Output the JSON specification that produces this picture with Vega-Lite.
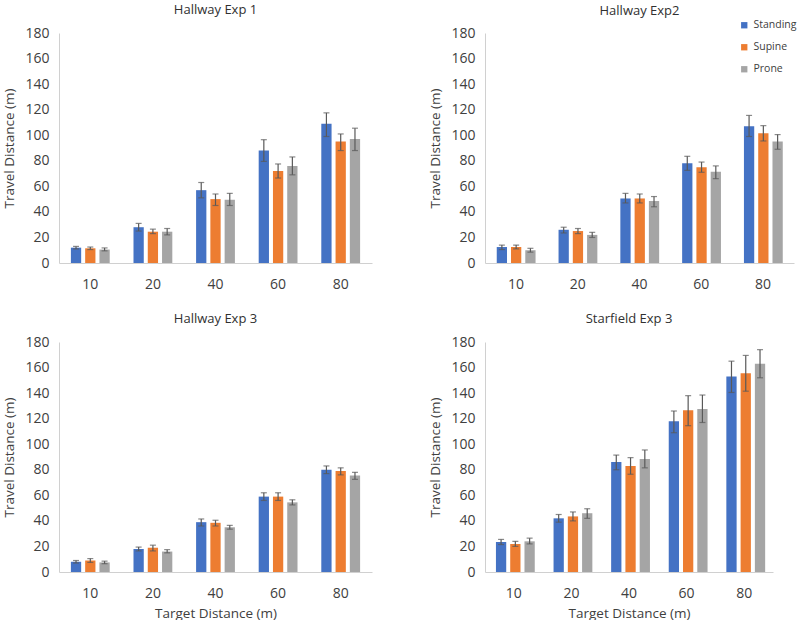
{
  "$schema": "https://vega.github.io/schema/vega-lite/v6.json",
  "padding": {"left": 2, "top": 4, "right": 2, "bottom": 0},
  "background": "white",
  "data": {"values": [
    {"panel": "H1", "target": "10", "cond": "Standing", "mean": 12, "lo": 11, "hi": 13},
    {"panel": "H1", "target": "10", "cond": "Supine", "mean": 11.5, "lo": 10.5, "hi": 12.5},
    {"panel": "H1", "target": "10", "cond": "Prone", "mean": 10.5, "lo": 9.5, "hi": 11.8},
    {"panel": "H1", "target": "20", "cond": "Standing", "mean": 28, "lo": 25, "hi": 31},
    {"panel": "H1", "target": "20", "cond": "Supine", "mean": 24.5, "lo": 23, "hi": 26.5},
    {"panel": "H1", "target": "20", "cond": "Prone", "mean": 24.5, "lo": 22, "hi": 27},
    {"panel": "H1", "target": "40", "cond": "Standing", "mean": 57, "lo": 51, "hi": 63},
    {"panel": "H1", "target": "40", "cond": "Supine", "mean": 50, "lo": 45, "hi": 54},
    {"panel": "H1", "target": "40", "cond": "Prone", "mean": 49.5, "lo": 45, "hi": 54.5},
    {"panel": "H1", "target": "60", "cond": "Standing", "mean": 88, "lo": 79.5, "hi": 96.5},
    {"panel": "H1", "target": "60", "cond": "Supine", "mean": 72, "lo": 66.5, "hi": 77.5},
    {"panel": "H1", "target": "60", "cond": "Prone", "mean": 76, "lo": 69, "hi": 83},
    {"panel": "H1", "target": "80", "cond": "Standing", "mean": 109, "lo": 99, "hi": 117.5},
    {"panel": "H1", "target": "80", "cond": "Supine", "mean": 95, "lo": 88, "hi": 101},
    {"panel": "H1", "target": "80", "cond": "Prone", "mean": 97, "lo": 88, "hi": 105.5},

    {"panel": "H2", "target": "10", "cond": "Standing", "mean": 12.5, "lo": 10.5, "hi": 14},
    {"panel": "H2", "target": "10", "cond": "Supine", "mean": 12.5, "lo": 11, "hi": 14},
    {"panel": "H2", "target": "10", "cond": "Prone", "mean": 10, "lo": 8.5, "hi": 11.5},
    {"panel": "H2", "target": "20", "cond": "Standing", "mean": 26, "lo": 23.5, "hi": 28},
    {"panel": "H2", "target": "20", "cond": "Supine", "mean": 25, "lo": 23, "hi": 27},
    {"panel": "H2", "target": "20", "cond": "Prone", "mean": 22, "lo": 20, "hi": 24},
    {"panel": "H2", "target": "40", "cond": "Standing", "mean": 50.5, "lo": 47, "hi": 54.5},
    {"panel": "H2", "target": "40", "cond": "Supine", "mean": 50.5, "lo": 47, "hi": 54},
    {"panel": "H2", "target": "40", "cond": "Prone", "mean": 48.5, "lo": 44, "hi": 52},
    {"panel": "H2", "target": "60", "cond": "Standing", "mean": 78, "lo": 72.5, "hi": 83.5},
    {"panel": "H2", "target": "60", "cond": "Supine", "mean": 75, "lo": 71, "hi": 79},
    {"panel": "H2", "target": "60", "cond": "Prone", "mean": 71.5, "lo": 66, "hi": 76},
    {"panel": "H2", "target": "80", "cond": "Standing", "mean": 107, "lo": 99, "hi": 115.5},
    {"panel": "H2", "target": "80", "cond": "Supine", "mean": 101.5, "lo": 95.5, "hi": 107.5},
    {"panel": "H2", "target": "80", "cond": "Prone", "mean": 95, "lo": 89, "hi": 100.5},

    {"panel": "H3", "target": "10", "cond": "Standing", "mean": 8, "lo": 7, "hi": 9},
    {"panel": "H3", "target": "10", "cond": "Supine", "mean": 9, "lo": 7.5, "hi": 10.5},
    {"panel": "H3", "target": "10", "cond": "Prone", "mean": 7.5, "lo": 6.5, "hi": 8.5},
    {"panel": "H3", "target": "20", "cond": "Standing", "mean": 18, "lo": 16.5, "hi": 19.5},
    {"panel": "H3", "target": "20", "cond": "Supine", "mean": 19, "lo": 16.5, "hi": 21},
    {"panel": "H3", "target": "20", "cond": "Prone", "mean": 16, "lo": 15, "hi": 17.5},
    {"panel": "H3", "target": "40", "cond": "Standing", "mean": 39, "lo": 36, "hi": 41.5},
    {"panel": "H3", "target": "40", "cond": "Supine", "mean": 38.5, "lo": 36, "hi": 40.5},
    {"panel": "H3", "target": "40", "cond": "Prone", "mean": 35, "lo": 33.5, "hi": 36.5},
    {"panel": "H3", "target": "60", "cond": "Standing", "mean": 59, "lo": 56, "hi": 62},
    {"panel": "H3", "target": "60", "cond": "Supine", "mean": 59, "lo": 56, "hi": 62},
    {"panel": "H3", "target": "60", "cond": "Prone", "mean": 54.5, "lo": 52.5, "hi": 56.5},
    {"panel": "H3", "target": "80", "cond": "Standing", "mean": 80, "lo": 77, "hi": 83},
    {"panel": "H3", "target": "80", "cond": "Supine", "mean": 79, "lo": 76, "hi": 81.5},
    {"panel": "H3", "target": "80", "cond": "Prone", "mean": 75.5, "lo": 72.5, "hi": 78},

    {"panel": "S3", "target": "10", "cond": "Standing", "mean": 23.5, "lo": 21.5, "hi": 25.5},
    {"panel": "S3", "target": "10", "cond": "Supine", "mean": 22, "lo": 20, "hi": 24},
    {"panel": "S3", "target": "10", "cond": "Prone", "mean": 24, "lo": 22, "hi": 26.5},
    {"panel": "S3", "target": "20", "cond": "Standing", "mean": 42, "lo": 39, "hi": 45},
    {"panel": "S3", "target": "20", "cond": "Supine", "mean": 43.5, "lo": 40, "hi": 47},
    {"panel": "S3", "target": "20", "cond": "Prone", "mean": 46, "lo": 42, "hi": 49.5},
    {"panel": "S3", "target": "40", "cond": "Standing", "mean": 86, "lo": 80, "hi": 91.5},
    {"panel": "S3", "target": "40", "cond": "Supine", "mean": 83, "lo": 76.5, "hi": 89.5},
    {"panel": "S3", "target": "40", "cond": "Prone", "mean": 88.5, "lo": 81.5, "hi": 95.5},
    {"panel": "S3", "target": "60", "cond": "Standing", "mean": 118, "lo": 109, "hi": 126},
    {"panel": "S3", "target": "60", "cond": "Supine", "mean": 126.5, "lo": 114.5, "hi": 138},
    {"panel": "S3", "target": "60", "cond": "Prone", "mean": 127.5, "lo": 117, "hi": 138.5},
    {"panel": "S3", "target": "80", "cond": "Standing", "mean": 153, "lo": 140.5, "hi": 165},
    {"panel": "S3", "target": "80", "cond": "Supine", "mean": 155.5, "lo": 141.5, "hi": 169.5},
    {"panel": "S3", "target": "80", "cond": "Prone", "mean": 163, "lo": 152, "hi": 174}
  ]},
  "config": {
    "font": "Open Sans",
    "view": {"stroke": null},
    "axis": {"grid": false, "ticks": false, "labelOverlap": false, "labelFont": "Open Sans", "titleFont": "Open Sans", "labelColor": "#404040", "titleColor": "#404040", "titleFontWeight": "normal", "labelFontSize": 14, "titleFontSize": 13.5, "domainColor": "#D0D0D0"},
    "axisY": {"tickCount": 10},
    "axisX": {"labelPadding": 14, "titlePadding": 6},
    "title": {"font": "Open Sans", "fontSize": 13, "fontWeight": "normal", "color": "#303030", "offset": 9, "frame": "group"},
    "legend": {"labelFont": "Open Sans", "labelFontSize": 10.5, "labelColor": "#404040"}
  },
  "resolve": {"scale": {"color": "independent"}, "legend": {"color": "independent"}},
  "spacing": 22,
  "vconcat": [
    {
      "spacing": 56,
      "resolve": {"scale": {"color": "independent"}, "legend": {"color": "independent"}},
      "hconcat": [
        {
          "title": "Hallway Exp 1",
          "width": 313, "height": 230,
          "transform": [{"filter": "datum.panel === 'H1'"}],
          "encoding": {
            "x": {"field": "target", "type": "ordinal", "title": null, "scale": {"paddingInner": 0.38, "paddingOuter": 0.19}, "axis": {"labelAngle": 0}},
            "xOffset": {"field": "cond", "type": "nominal", "sort": ["Standing", "Supine", "Prone"], "scale": {"paddingInner": 0.28}}
          },
          "layer": [
            {"mark": {"type": "bar"}, "encoding": {
              "y": {"field": "mean", "type": "quantitative", "scale": {"domain": [0, 180]}, "title": "Travel Distance (m)", "axis": {"values": [0,20,40,60,80,100,120,140,160,180], "labelPadding": 10, "titlePadding": 8}},
              "color": {"field": "cond", "type": "nominal", "title": null, "scale": {"domain": ["Standing", "Supine", "Prone"], "range": ["#4472C4", "#ED7D31", "#A5A5A5"]}, "legend": null}
            }},
            {"mark": {"type": "rule", "color": "#595959", "strokeWidth": 1.2}, "encoding": {"y": {"field": "lo", "type": "quantitative", "title": "Travel Distance (m)", "axis": {"values": [0,20,40,60,80,100,120,140,160,180], "labelPadding": 10, "titlePadding": 8}}, "y2": {"field": "hi"}}},
            {"mark": {"type": "tick", "color": "#595959", "thickness": 1.2, "size": 6}, "encoding": {"y": {"field": "lo", "type": "quantitative", "title": "Travel Distance (m)", "axis": {"values": [0,20,40,60,80,100,120,140,160,180], "labelPadding": 10, "titlePadding": 8}}}},
            {"mark": {"type": "tick", "color": "#595959", "thickness": 1.2, "size": 6}, "encoding": {"y": {"field": "hi", "type": "quantitative", "title": "Travel Distance (m)", "axis": {"values": [0,20,40,60,80,100,120,140,160,180], "labelPadding": 10, "titlePadding": 8}}}}
          ]
        },
        {
          "title": {"text": "Hallway Exp2", "offset": 2},
          "width": 309, "height": 230,
          "transform": [{"filter": "datum.panel === 'H2'"}],
          "encoding": {
            "x": {"field": "target", "type": "ordinal", "title": null, "scale": {"paddingInner": 0.38, "paddingOuter": 0.19}, "axis": {"labelAngle": 0}},
            "xOffset": {"field": "cond", "type": "nominal", "sort": ["Standing", "Supine", "Prone"], "scale": {"paddingInner": 0.28}}
          },
          "layer": [
            {"mark": {"type": "bar"}, "encoding": {
              "y": {"field": "mean", "type": "quantitative", "scale": {"domain": [0, 180]}, "title": "Travel Distance (m)", "axis": {"values": [0,20,40,60,80,100,120,140,160,180], "labelPadding": 10, "titlePadding": 8}},
              "color": {"field": "cond", "type": "nominal", "title": null, "scale": {"domain": ["Standing", "Supine", "Prone"], "range": ["#4472C4", "#ED7D31", "#A5A5A5"]}, "legend": {"orient": "none", "legendX": 254, "legendY": -13, "symbolType": "square", "symbolSize": 40, "rowPadding": 11, "labelOffset": 4}}
            }},
            {"mark": {"type": "rule", "color": "#595959", "strokeWidth": 1.2}, "encoding": {"y": {"field": "lo", "type": "quantitative", "title": "Travel Distance (m)", "axis": {"values": [0,20,40,60,80,100,120,140,160,180], "labelPadding": 10, "titlePadding": 8}}, "y2": {"field": "hi"}}},
            {"mark": {"type": "tick", "color": "#595959", "thickness": 1.2, "size": 6}, "encoding": {"y": {"field": "lo", "type": "quantitative", "title": "Travel Distance (m)", "axis": {"values": [0,20,40,60,80,100,120,140,160,180], "labelPadding": 10, "titlePadding": 8}}}},
            {"mark": {"type": "tick", "color": "#595959", "thickness": 1.2, "size": 6}, "encoding": {"y": {"field": "hi", "type": "quantitative", "title": "Travel Distance (m)", "axis": {"values": [0,20,40,60,80,100,120,140,160,180], "labelPadding": 10, "titlePadding": 8}}}}
          ]
        }
      ]
    },
    {
      "spacing": 56,
      "resolve": {"scale": {"color": "independent"}, "legend": {"color": "independent"}},
      "hconcat": [
        {
          "title": "Hallway Exp 3",
          "width": 313, "height": 230,
          "transform": [{"filter": "datum.panel === 'H3'"}],
          "encoding": {
            "x": {"field": "target", "type": "ordinal", "title": "Target Distance (m)", "scale": {"paddingInner": 0.38, "paddingOuter": 0.19}, "axis": {"labelAngle": 0}},
            "xOffset": {"field": "cond", "type": "nominal", "sort": ["Standing", "Supine", "Prone"], "scale": {"paddingInner": 0.28}}
          },
          "layer": [
            {"mark": {"type": "bar"}, "encoding": {
              "y": {"field": "mean", "type": "quantitative", "scale": {"domain": [0, 180]}, "title": "Travel Distance (m)", "axis": {"values": [0,20,40,60,80,100,120,140,160,180], "labelPadding": 10, "titlePadding": 8}},
              "color": {"field": "cond", "type": "nominal", "title": null, "scale": {"domain": ["Standing", "Supine", "Prone"], "range": ["#4472C4", "#ED7D31", "#A5A5A5"]}, "legend": null}
            }},
            {"mark": {"type": "rule", "color": "#595959", "strokeWidth": 1.2}, "encoding": {"y": {"field": "lo", "type": "quantitative", "title": "Travel Distance (m)", "axis": {"values": [0,20,40,60,80,100,120,140,160,180], "labelPadding": 10, "titlePadding": 8}}, "y2": {"field": "hi"}}},
            {"mark": {"type": "tick", "color": "#595959", "thickness": 1.2, "size": 6}, "encoding": {"y": {"field": "lo", "type": "quantitative", "title": "Travel Distance (m)", "axis": {"values": [0,20,40,60,80,100,120,140,160,180], "labelPadding": 10, "titlePadding": 8}}}},
            {"mark": {"type": "tick", "color": "#595959", "thickness": 1.2, "size": 6}, "encoding": {"y": {"field": "hi", "type": "quantitative", "title": "Travel Distance (m)", "axis": {"values": [0,20,40,60,80,100,120,140,160,180], "labelPadding": 10, "titlePadding": 8}}}}
          ]
        },
        {
          "title": "Starfield Exp 3",
          "width": 288, "height": 230,
          "transform": [{"filter": "datum.panel === 'S3'"}],
          "encoding": {
            "x": {"field": "target", "type": "ordinal", "title": "Target Distance (m)", "scale": {"paddingInner": 0.38, "paddingOuter": 0.19}, "axis": {"labelAngle": 0}},
            "xOffset": {"field": "cond", "type": "nominal", "sort": ["Standing", "Supine", "Prone"], "scale": {"paddingInner": 0.28}}
          },
          "layer": [
            {"mark": {"type": "bar"}, "encoding": {
              "y": {"field": "mean", "type": "quantitative", "scale": {"domain": [0, 180]}, "title": "Travel Distance (m)", "axis": {"values": [0,20,40,60,80,100,120,140,160,180], "labelPadding": 10, "titlePadding": 8}},
              "color": {"field": "cond", "type": "nominal", "title": null, "scale": {"domain": ["Standing", "Supine", "Prone"], "range": ["#4472C4", "#ED7D31", "#A5A5A5"]}, "legend": null}
            }},
            {"mark": {"type": "rule", "color": "#595959", "strokeWidth": 1.2}, "encoding": {"y": {"field": "lo", "type": "quantitative", "title": "Travel Distance (m)", "axis": {"values": [0,20,40,60,80,100,120,140,160,180], "labelPadding": 10, "titlePadding": 8}}, "y2": {"field": "hi"}}},
            {"mark": {"type": "tick", "color": "#595959", "thickness": 1.2, "size": 6}, "encoding": {"y": {"field": "lo", "type": "quantitative", "title": "Travel Distance (m)", "axis": {"values": [0,20,40,60,80,100,120,140,160,180], "labelPadding": 10, "titlePadding": 8}}}},
            {"mark": {"type": "tick", "color": "#595959", "thickness": 1.2, "size": 6}, "encoding": {"y": {"field": "hi", "type": "quantitative", "title": "Travel Distance (m)", "axis": {"values": [0,20,40,60,80,100,120,140,160,180], "labelPadding": 10, "titlePadding": 8}}}}
          ]
        }
      ]
    }
  ]
}
